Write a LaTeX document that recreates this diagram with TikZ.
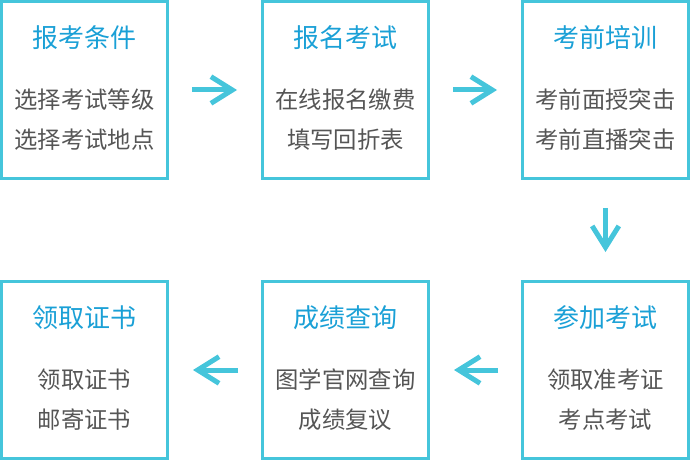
\documentclass[tikz,border=0pt]{standalone}
\usepackage{fontspec}
\setmainfont{Noto Sans CJK SC}
\usetikzlibrary{
  arrows.meta,
  positioning,
}
\definecolor{boxcyan}{HTML}{45C5DB}
\definecolor{titleblue}{HTML}{1AA0D6}
\definecolor{textgray}{HTML}{555555}
\tikzset{
  >={Straight Barb[length=16pt,width=20pt]},
  stagebox/.style={draw=boxcyan, line width=2.25pt, minimum width=124.5pt,
    minimum height=132.75pt, inner sep=0pt},
  stagetitle/.style={text=titleblue, inner sep=0pt,
    font=\fontsize{19.5}{22}\selectfont},
  stagetext/.style={text=textgray, align=center, inner sep=0pt,
    font=\fontsize{17.5}{30}\selectfont},
  flow/.style={->, draw=boxcyan, line width=3.75pt,
    shorten <=17.25pt, shorten >=18pt},
}

\begin{document}
\begin{tikzpicture}[x=0.75pt, y=-0.75pt]
      \useasboundingbox (0,0) rectangle (690,460);
      % top row
      \node [stagebox] (apply) at (84.5, 90) {};
      \node [stagebox] (signup) at (345.5, 90) {};
      \node [stagebox] (train) at (605.5, 90) {};
      % bottom row
      \node [stagebox] (cert) at (84.5, 370) {};
      \node [stagebox] (score) at (345.5, 370) {};
      \node [stagebox] (exam) at (605.5, 370) {};

      \node [stagetitle] (apply title) at (84.5, 38) {报考条件};
      \node [stagetext] (apply text) at (84.5, 120) {
        选择考试等级 \\ 选择考试地点
      };
      \node [stagetitle] (signup title) at (345.5, 38) {报名考试};
      \node [stagetext] (signup text) at (345.5, 120) {
        在线报名缴费 \\ 填写回折表
      };
      \node [stagetitle] (train title) at (605.5, 38) {考前培训};
      \node [stagetext] (train text) at (605.5, 120) {
        考前面授突击 \\ 考前直播突击
      };
      \node [stagetitle] (exam title) at (605.5, 318) {参加考试};
      \node [stagetext] (exam text) at (605.5, 400) {
        领取准考证 \\ 考点考试
      };
      \node [stagetitle] (score title) at (345.5, 318) {成绩查询};
      \node [stagetext] (score text) at (345.5, 400) {
        图学官网查询 \\ 成绩复议
      };
      \node [stagetitle] (cert title) at (84.5, 318) {领取证书};
      \node [stagetext] (cert text) at (84.5, 400) {
        领取证书 \\ 邮寄证书
      };

      \draw [flow] (apply) -- (signup);
      \draw [flow] (signup) -- (train);
      \draw [flow, shorten <=21pt, shorten >=21pt] (train) -- (exam);
      \draw [flow] (exam) -- (score);
      \draw [flow] (score) -- (cert);
    \end{tikzpicture}
\end{document}
